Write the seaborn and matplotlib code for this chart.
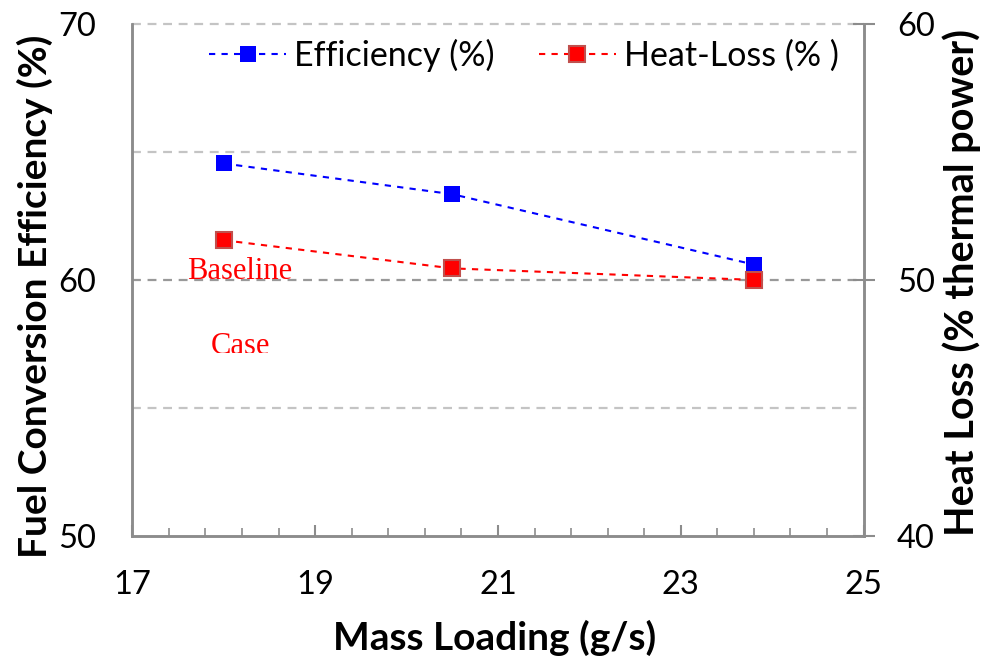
import matplotlib
matplotlib.use("Agg")
import matplotlib.pyplot as plt
import seaborn as sns
import pandas as pd
import numpy as np
from matplotlib.ticker import FixedLocator
from matplotlib.lines import Line2D
from matplotlib.patches import Rectangle

mass_loading = [18.0, 20.5, 23.8]
efficiency = [64.55, 63.35, 60.6]
heat_loss = [51.55, 50.45, 50.0]
x_ticks = [17, 19, 21, 23, 25]
left_ticks = [50, 60, 70]
right_ticks = [40, 50, 60]

sns.set_theme(style="white")
plt.rcParams['font.family'] = ['Lato', 'DejaVu Sans']
plt.rcParams['text.color'] = 'black'
plt.rcParams['axes.labelcolor'] = 'black'

fig = plt.figure(figsize=(9.87, 6.68), dpi=100)
ax = fig.add_axes([0.134, 0.198, 0.741, 0.766])
ax2 = ax.twinx()

df = pd.DataFrame({"x": mass_loading, "eff": efficiency, "hl": heat_loss})

dash = (0, (3, 3))
sns.lineplot(data=df, x="x", y="eff", ax=ax, color="#0000FF", marker="s",
             markersize=11, markeredgewidth=0, linestyle=dash, linewidth=1.5, zorder=5)
sns.lineplot(data=df, x="x", y="hl", ax=ax2, color="#FF0000", marker="s",
             markersize=11, markeredgecolor="#C0504D", markeredgewidth=1.5,
             linestyle=dash, linewidth=1.5, zorder=5)

gray = "#8c8c8c"
ax.set_xlim(17, 25)
ax.set_ylim(50, 70)
ax2.set_ylim(40, 60)

ax.xaxis.set_major_locator(FixedLocator(x_ticks))
ax.xaxis.set_minor_locator(FixedLocator(list(np.round(np.arange(17, 25.01, 0.4), 2))))
ax.yaxis.set_major_locator(FixedLocator(left_ticks))
ax.yaxis.set_minor_locator(FixedLocator([55, 65]))
ax2.yaxis.set_major_locator(FixedLocator(right_ticks))

for a in (ax, ax2):
    for s in a.spines.values():
        s.set_color(gray)
        s.set_linewidth(1.8)
    a.spines['top'].set_visible(False)

ax.grid(False)
ax2.grid(False)
for yv in [55, 60, 65, 70]:
    ax.axhline(yv, color="#c4c4c4" if yv != 60 else "#999999",
               linestyle=(0, (4, 3)), linewidth=1.6, zorder=1, clip_on=False)

ax.tick_params(axis='x', which='major', bottom=True, direction='in', length=8, width=1.5,
               color=gray, labelsize=23.5, pad=25, labelcolor='black')
ax.tick_params(axis='x', which='minor', bottom=True, direction='in', length=6, width=1.2, color=gray)
ax.tick_params(axis='y', which='major', left=True, direction='in', length=0,
               labelsize=23.5, pad=26, labelcolor='black')
ax.tick_params(axis='y', which='minor', length=0)
ax2.tick_params(axis='y', which='major', right=True, direction='inout', length=16, width=1.5,
                color=gray, labelsize=23.5, pad=16, labelcolor='black')

ax.set_xlabel("Mass Loading (g/s)", fontsize=28, fontweight='bold', color='black')
ax.set_ylabel("Fuel Conversion Efficiency (%)", fontsize=28, fontweight='bold', color='black')
ax2.set_ylabel("Heat Loss (% thermal power)", fontsize=28.5, fontweight='bold', color='black')
ax.xaxis.set_label_coords(0.496, -0.164)
ax.yaxis.set_label_coords(-0.108, 0.467)
ax2.yaxis.set_label_coords(1.107, 0.494)

ax.text(18.17, 60.31, "Baseline", color="red", fontsize=22,
        family=["Liberation Serif"], ha="center", va="center")
t = ax.text(18.18, 57.40, "Case", color="red", fontsize=22,
            family=["Liberation Serif"], ha="center", va="center")
clip = Rectangle((0, 0.357), 1, 0.643, transform=ax.transAxes, visible=False)
ax.add_artist(clip)
t.set_clip_on(True)
t.set_clip_path(clip)

handles = [
    Line2D([], [], color="#0000FF", marker="s", markersize=11, markeredgewidth=0,
           linestyle=dash, linewidth=1.5),
    Line2D([], [], color="#FF0000", marker="s", markersize=11, markeredgecolor="#C0504D",
           markeredgewidth=1.5, linestyle=dash, linewidth=1.5),
]
leg = ax2.legend(handles, ["Efficiency (%)", "Heat-Loss (% )"], ncol=2, frameon=False,
                 loc="center", bbox_to_anchor=(0.531, 1 - 55 / 668),
                 bbox_transform=fig.transFigure, fontsize=24.5,
                 handlelength=2.26, columnspacing=1.3, handletextpad=0.24,
                 borderpad=0, borderaxespad=0)
for txt in leg.get_texts():
    txt.set_color('black')

fig.savefig("out.png", dpi=100)
